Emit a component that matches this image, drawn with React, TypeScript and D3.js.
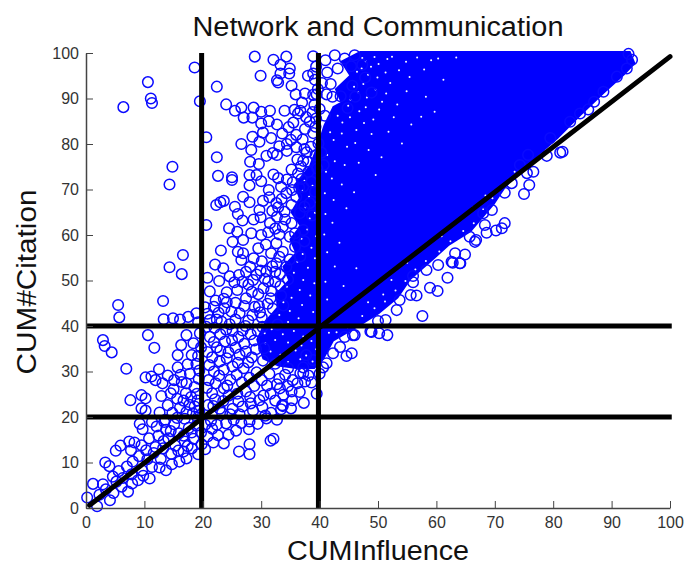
import React, { useEffect, useRef } from "react";
import * as d3 from "d3";

const xTicks = [0, 10, 20, 30, 40, 50, 60, 70, 80, 90, 100];
const yTicks = [0, 10, 20, 30, 40, 50, 60, 70, 80, 90, 100];
const cutoffs = [20, 40];

// outline of the area where the circles overlap into solid blue
const solidMass = [
  [47, 100], [93, 100], [93.7, 97.8], [92, 95.5], [88.5, 91.4], [84.5, 86.5], [80.6, 81.5], [77, 77.5], [73.8, 74],
  [71.5, 70.5], [69.7, 67], [65.7, 61], [62, 58], [59.4, 55], [55.4, 50.5], [53.2, 46.4], [50, 43], [46.9, 40.5],
  [42.2, 37], [40.5, 33], [39, 31], [36, 31], [33, 31.5], [30.5, 33], [29.5, 37], [31, 41], [33, 44], [32.8, 47], [35, 50], [34, 53], [36.2, 56],
  [35.2, 59], [37, 62], [35.4, 65], [36.8, 68], [36, 71], [38.5, 75], [40, 80], [41, 84], [42.5, 88], [44, 89], [43, 92], [45.5, 95], [44, 98],
];

// small holes left between the overlapping circles
const gaps = [
  [47.3, 98.9], [47.9, 98.2], [49.4, 99.1], [50.1, 97.6], [51.6, 98.7], [52.4, 99.2], [54.8, 98.1], [56.7, 99], [59.1, 98.4], [60.3, 98.8], [63.4, 99],
  [46.4, 95.9], [47.2, 96.6], [48.3, 95.2], [48.8, 97], [49.9, 94.6], [51.3, 95.7], [52.1, 93.4], [53.6, 96.2], [55.4, 94.7], [57.9, 96.4], [61.2, 94.1],
  [45.9, 92.6], [46.6, 91.4], [47.5, 93.2], [48.1, 90.2], [49.6, 91.9], [50.7, 89.3], [51.4, 91.1], [53.3, 88.7], [54.9, 91.6], [58.2, 90.4], [59.7, 87.1],
  [44.9, 88.4], [45.3, 89.7], [46.8, 87.2], [47.9, 88.1], [49.2, 85.4], [50.2, 87.6], [52.7, 85.9], [55.7, 84.3], [57.4, 86],
  [43.1, 86.2], [43.9, 84.7], [45.2, 85.9], [46.3, 83.1], [47.6, 84.6], [48.9, 82.2], [51.8, 82.7], [54.1, 80.1],
  [41.8, 82.6], [42.4, 80.9], [43.8, 82.3], [44.7, 79.4], [46.1, 80.2], [48.4, 78.7], [50.6, 77.1], [41.3, 77.6], [42.6, 76.2], [44.3, 75.4],
  [46.7, 75.9], [49.6, 73.2], [41.1, 73.9], [42.1, 72.4], [43.8, 71.1], [45.9, 69.4], [40.9, 69.2], [42.4, 67.7], [44.6, 65.9],
  [41, 64.6], [42.2, 62.7], [40.8, 60.1], [43.4, 58.3], [41.3, 56.2], [42.6, 53.1], [41, 49.7], [44.1, 48.8], [41.3, 45.8], [46.3, 52.7],
  [37.4, 71.9], [38.8, 70.8], [39.5, 67.2], [37.1, 69.7], [38.2, 68.4], [37.6, 66.1], [39.2, 64.9], [38.3, 63.6], [37.9, 61.2], [39.4, 59.7],
  [36.9, 59.2], [38.6, 57.2], [37.1, 55.8], [39.2, 54.9], [36.2, 54.1], [38, 52.8], [35.6, 51.7], [37.2, 50.1], [39.1, 49.4], [34.4, 48.6],
  [36.6, 47.9], [38.4, 46.7], [35.2, 46.2], [33.8, 45.2], [37, 44.6], [34.9, 43.3], [38.9, 43.1], [33.1, 42.4], [36.4, 41.7], [34.6, 40.9],
  [30.6, 38.4], [31.8, 39.3], [33.7, 38.2], [35.6, 38.9], [37.2, 37.7], [30.7, 36.2], [32.4, 36.9], [34.6, 36.4], [36.9, 35.7],
  [38.6, 36.7], [31.6, 34.4], [33.3, 33.7], [35.9, 34.6], [37.7, 33.5], [39.4, 34.9], [32.9, 32.6], [34.6, 32.1], [36.7, 32.7], [38.8, 32.2],
  [42.9, 38.6], [44.8, 39.7], [41.6, 38.5], [47.3, 42.2], [49.4, 43.9], [51.2, 45.4], [53, 47.8], [54.7, 49.9], [56.4, 52.4], [58.2, 54.3],
  [60.5, 56.4], [62.4, 58.6], [64.6, 60.9], [66.4, 62.6], [68, 65.7], [69.6, 68.1], [71.2, 70.9], [73.4, 73.9], [50.9, 46.9], [48.3, 45.2],
  [52.3, 50.1], [55, 53.9], [57.4, 56.8], [60.9, 59.7], [63.7, 62.9], [66.3, 66.1], [68.4, 68.7],
];

// circles on their own or in loose clusters
const upperRings = [
  [6.4, 88.1], [10.6, 93.6], [11.1, 90], [11.3, 89], [18.6, 96.8], [19.5, 89.4], [14.8, 75], [14.3, 71.1], [20.6, 81.5],
  [22.4, 92.6], [22.4, 77.1], [22.6, 73], [25, 72.7], [25, 72.1], [28.9, 99.2], [32.1, 98.5], [34.3, 99.2], [38.9, 99.3],
  [33.3, 97.4], [34.9, 96.6], [29.9, 95], [33.3, 95.5], [34.8, 95.5], [32.7, 94], [32.9, 93.5], [35.2, 92.8], [35.9, 90.9],
  [37.5, 91.1], [38, 95], [38.9, 95.5], [39.2, 94.1], [24, 88.7], [25.5, 87.3], [26.6, 88], [28.7, 88], [27, 85.8],
  [28.5, 85.8], [30, 87.1], [31.5, 87.3], [31.3, 85], [30, 84.5], [34, 87.3], [35.7, 87.5], [36.7, 87.3], [36.3, 86.7],
  [39.1, 88.6], [34.7, 83.7], [30.3, 82.5], [31.7, 81.3], [28.5, 81.6], [26.6, 80], [28.3, 78.7], [29.7, 80.5], [34.4, 80],
  [34.4, 78.5], [36, 79.3], [36, 82], [30.9, 77.4], [32, 78], [32.7, 77.6], [28.1, 76.1], [29.6, 75.6], [37.2, 76.3],
  [38, 76.1], [32.1, 73.3], [28, 73.2], [29.2, 73.2], [30, 71.8], [28, 70.9], [31.3, 69.9], [32.9, 72.5], [34.4, 72.2],
  [36.3, 73.5], [22.3, 66.6], [23.6, 67.5], [23, 67.2], [26.9, 68.4], [28, 67.2], [30.3, 67.5], [25.5, 66.2], [26, 64.6],
  [26.8, 63.2], [28.7, 63.4], [29.7, 65.5], [29.9, 63.9], [31.5, 62.6], [32.6, 67], [32.7, 64], [20.6, 62.2], [24.5, 61.5],
  [25.9, 60.7], [16.6, 55.6], [14.3, 52.9], [16.4, 51.4], [23.1, 56.6], [22.1, 53.5], [25.1, 58.5], [26.9, 58.9], [28.3, 60.4],
  [30, 60], [26, 56.3], [26.9, 56], [26.6, 54.5], [28.7, 54.9], [29.5, 57.1], [31.7, 56], [33.7, 56.3], [34.9, 59.6], [32.6, 53.8],
  [26.2, 51.2], [23.5, 52.7], [30.9, 52], [34.3, 53], [32.6, 58.2], [35.2, 62.6], [33.7, 61.8], [37.2, 61.1], [36.6, 64.8],
  [35.2, 66.6], [38.3, 67], [34.3, 69.2], [36, 68.4], [37.2, 70.6], [38.6, 71.7], [38.3, 84.9], [37.5, 83.3], [38.9, 82.4],
  [37.1, 81], [38.5, 79.4], [39.3, 77.5], [39.8, 80.1], [39.4, 85.6], [37.8, 78.2], [39.6, 74.6], [38.1, 73.9], [39.2, 69.5],
  [38.7, 64.3], [37.4, 66.2], [36.5, 70.4], [35.4, 71.6], [33.4, 70.6], [31.9, 65.3], [34, 65.1], [33.1, 60.1], [35.8, 57.4],
  [37.4, 58.6], [36.7, 55.3], [34.9, 54.6], [33.2, 51.4], [31.2, 49.8], [29.2, 51.3], [27.8, 49.1], [25.4, 49.6], [28.1, 53],
  [30.1, 54.2], [32.4, 49.7], [24.1, 47.4], [22.8, 49.9], [21.2, 47.6], [20.8, 50.6], [22.2, 45.6], [20.4, 44.1], [23.7, 43.9],
  [25.6, 45.1], [27.4, 46.1], [29.5, 47], [28.9, 44.2], [26.3, 42.8],
  [31.2, 60.6], [32.4, 61.4], [30.8, 57.9], [33.1, 55.2], [31.9, 53.1], [29.9, 52.2], [27.4, 51.9], [24.6, 50.9], [25.9, 47.9], [23.6, 46],
  [28.4, 47.5], [30.4, 48.3], [31.1, 44.9], [27.1, 44.4], [24.9, 43.2], [22.7, 42.9], [31.7, 47.7], [33.3, 48.8], [32.4, 51.9], [30.6, 50.4],
  [28.6, 50.1], [26.8, 49.7], [24.1, 45.2], [21.9, 44.2], [29.8, 43], [33.8, 44.5], [35.8, 60.4], [34.1, 63.4], [32.9, 66.1], [31.4, 68.3],
  [33.5, 67.9], [35.3, 69.9], [36.9, 72.3], [35.2, 74.4], [36.8, 75.1], [37.4, 78.9], [36.2, 76.6], [38.8, 87], [37.7, 85.9], [38.9, 90.8],
  [39.4, 97], [39.7, 92.1], [40, 87.7], [39.3, 83.8], [35.1, 80.9], [33.6, 82.3], [32.7, 84.3], [33.1, 79.5], [35.5, 84.7], [37, 89.1],
];

const middleRings = [
  [5.5, 44.6], [5.7, 41.9], [13.2, 45.5], [13.3, 41.5], [14.9, 41.7], [17.5, 42], [18.9, 42.8], [2.9, 36.9], [3.2, 35.6],
  [4.4, 34.2], [6.9, 30.6], [10.6, 38], [11.7, 35.2], [10.2, 28.7], [11.2, 28.9], [11.9, 28.1], [12.5, 30.5], [14, 29.1],
  [15.7, 30.9], [15.7, 33.6], [16.3, 35.8], [17.2, 38], [18.4, 36.2], [7.6, 23.7], [9.5, 24.8], [10.2, 24.1], [12.9, 24.6],
  [14, 22.6], [9.5, 21.9], [10.2, 21.4], [9.2, 18.5], [9.7, 17.3], [12.6, 21], [15, 26.1], [16.4, 27.7], [17.8, 29.5],
  [18.9, 31.7], [15.6, 24], [17.1, 25.2], [18.6, 26.6], [19.3, 28.4], [16.1, 22.1], [17.7, 22.7], [19.1, 23.6], [14.8, 20.9],
  [18.3, 20.8], [19.4, 21.4], [16.9, 19.6], [15.1, 18.4], [13.7, 17.2], [12.4, 15.9], [14.1, 15.3], [15.9, 16.4], [17.6, 17.6],
  [18.9, 18.1], [19.7, 16.6], [18.4, 15.2], [16.9, 14.6], [15.3, 13.7], [13.2, 13.1], [11.6, 12.1], [12.8, 10.8], [14.6, 11.9],
  [16.7, 12.4], [18.1, 13.1], [19.8, 14], [20.8, 15.7], [21.6, 17.4], [21.4, 19.1], [22.4, 18.3], [24, 18.6], [25.3, 19.4],
  [26.6, 18.7], [28, 19], [29.4, 18.5], [23.3, 20.9], [21.8, 22.4], [23.5, 23.5], [25.1, 21.8], [26.8, 22.3], [28.6, 21.4],
  [30.2, 22.2], [31.7, 20.9], [33.4, 21.7], [32.4, 23.6], [30.4, 24.7], [28.1, 24.4], [25.9, 25.1], [23.6, 26.3], [21.6, 25.2],
  [21, 28.1], [22.8, 29.1], [24.7, 28.2], [26.7, 27.6], [28.8, 26.8], [31, 26.9], [33.1, 28.4], [35.4, 28.1], [36.6, 25.5],
  [31.4, 29.5], [29.2, 29.8], [27, 30.7], [25.1, 31.1], [22.9, 32.2], [21.1, 31.4], [20.8, 34.3], [22.4, 35.3], [24.4, 34.2],
  [26.3, 33.7], [28.4, 33.1], [30.3, 32.4], [32.4, 31.7], [34.6, 30.7], [36.7, 29.6], [38.6, 27.6], [39.5, 25.1], [27.1, 36.1],
  [25, 36.9], [23, 38.2], [21.2, 37.6], [20.6, 39.8], [22.4, 41.4], [24.6, 40.4], [26.8, 39], [28.8, 36.8], [30.5, 35.1],
  [29.4, 38.9], [27.8, 41.2], [30.1, 41.9], [32, 43.8], [33.4, 46.7], [31.6, 46.1], [29.6, 44.4], [34.6, 50.2], [32.8, 40.3],
  [19.2, 33.4], [19.7, 35.3], [19.5, 38.4], [19.2, 40.8], [16.1, 41.4], [20.8, 42.7], [13.1, 27.4], [14.5, 25.2],
  [22.1, 23.9], [24.4, 24.7], [26.1, 23.4], [27.4, 25.6], [29.7, 23.7], [31.6, 25.1], [33.8, 24.9], [34.6, 26.8], [32.7, 27.2], [30.1, 28.1],
  [28, 28.6], [25.8, 29.3], [23.6, 30.4], [21.9, 30], [20.7, 26.4], [22.2, 27.4], [24.2, 26.9], [26, 31.9], [27.8, 32], [24.1, 32.9],
  [21.6, 33.1], [23, 34.6], [25.6, 35.2], [27.4, 34.4], [29.1, 34.9], [26.1, 37.6], [23.8, 36.6], [21.9, 36.5], [24, 39.2], [22, 39.6],
  [25.6, 41.4], [27.3, 40], [28.5, 42.4], [23.2, 41], [21.2, 41.3], [25.1, 38.9], [28.2, 38.2], [30.2, 39.8], [20.9, 22.6], [22.9, 21.8],
  [24.7, 20.6], [26.3, 20.6], [28.2, 23], [30.7, 20.3], [32.7, 19.4], [35.1, 21.9], [36.2, 27.4], [34.1, 29.3], [38.1, 29.1], [37.2, 30.9],
  [16.2, 29.3], [17.4, 31.6], [18.1, 33.6], [15.1, 28.1], [16.7, 23.6], [18, 24.4], [19, 25.1], [17.2, 27.4], [19.4, 30.2], [18.6, 22.3],
  [15.6, 19.8], [17.2, 21.1], [19.1, 19.8], [13.4, 18.9], [14.5, 16.9], [16.7, 15.9], [18.1, 16.6], [20.4, 18.3], [15.8, 12.6], [17.4, 13.6],
];

const lowerRings = [
  [7.4, 14.6], [8.3, 14.4], [5.9, 13.7], [5.1, 12.6], [3.3, 10], [4, 9.2], [7.7, 12.7], [9.5, 13.8], [10.3, 12.7], [8, 10.2],
  [1.2, 5.3], [0.2, 2.3], [2.3, 2.9], [1.9, 0.4], [4.1, 1.7], [5.2, 5.8], [7.2, 3.6], [8.9, 6.1], [10.9, 6.5], [13.7, 8.3],
  [16, 10.2], [19.2, 11.8], [23.6, 14.2], [26.2, 12.4], [28, 14], [28, 11.8], [31.6, 14.8], [32.1, 15.2], [25.7, 17], [27.9, 17.3],
  [22.6, 16], [30.9, 19.7], [6.3, 6.6], [7.8, 7.4], [9.6, 8.3], [11.3, 9], [12.6, 8.9], [14.7, 9.6], [3.4, 4.1], [4.7, 3.3],
  [6.1, 4.7], [7.9, 5.4], [9.8, 7.1], [10.5, 10.7], [9.1, 11.4], [11.9, 13.4], [10.8, 15.3], [12.1, 17.9], [13.6, 19.4],
  [11.3, 18.9], [13.3, 14.7], [17.2, 10.9], [20.4, 12.9], [21.8, 14.4], [24.4, 16.1], [7, 9.1], [5.6, 8.1], [4.6, 6.9], [2.9, 5.2],
];

// the ragged lower edge of the solid area
const edgeRings = [
  [37.3, 23.1], [33.6, 22.6], [33.7, 22.4], [35.3, 23.7], [37.5, 27.8], [35.2, 25.6], [33.2, 26.3], [45.5, 34], [44.6, 33.4],
  [43.5, 35.4], [40.6, 30.9], [46, 38], [48.9, 38.7], [42.3, 34], [41.2, 31.8], [40, 29.5], [38.9, 32.5], [37.7, 33.6], [37.2, 29.6],
  [45.7, 38], [44.3, 37.6], [51.6, 38], [50.2, 38.4], [48.7, 38.8], [57.6, 42.2], [53.2, 43.5], [51.3, 41.3], [50, 41.1], [58.9, 48.4],
  [60.2, 47.7], [56.6, 46.7], [55.6, 46.8], [56, 49.6], [53.7, 45.7], [61.9, 50.6], [64.9, 55.7], [64, 53.8], [62.8, 53.9], [66.6, 58.5],
  [60.3, 53.4], [58.3, 52.3], [56, 51], [63.2, 56], [62.6, 54.1], [64.1, 53.8], [65.7, 59.6], [66.8, 58.9], [68.3, 62.2], [68.6, 60.5],
  [70.2, 61], [71.2, 61.5], [71.7, 62.6], [68, 64.8], [69.5, 65.5], [71.7, 69.3], [75, 69], [75.9, 71], [75.5, 73.6], [76.6, 73.9],
  [72.9, 71.4], [74.3, 75.4], [75.7, 77.6], [78.9, 77.4], [81.2, 78.1], [81.6, 78.3], [79.5, 81.3], [82.9, 84.9], [84.6, 86.7],
  [86, 87.6], [87, 89.3], [88.6, 91.5], [90.9, 94.8], [92.6, 96.6], [93.5, 98.5], [92.9, 99.8],
];

// speckled top-left corner of the dense area, where single circles still show
const topRings = [
  [41, 98.4], [42.6, 99.5], [44.3, 98.8], [46, 99.5], [41.3, 95.7], [43.1, 96.6], [41.9, 93.2], [42.2, 90.4], [41.2, 90.9], [40.4, 93.4], [40.9, 86.2],
  [43.6, 90.5], [45.6, 92.8], [46.1, 90.4], [45.4, 97.1], [47.3, 97.4], [47.8, 94.6], [48.9, 91.3], [44.8, 87.9], [40.3, 78.1], [40.7, 75.4], [39.5, 90.9],
];

const App = () => {
  const ref = useRef<SVGSVGElement>(null);

  useEffect(() => {
    const svg = d3.select(ref.current);
    svg.selectAll("*").remove();

    const x = d3.scaleLinear().domain([0, 100]).range([86, 670]);
    const y = d3.scaleLinear().domain([0, 100]).range([508, 53]);

    const outline = d3.line<number[]>().x(d => x(d[0])).y(d => y(d[1])).curve(d3.curveLinearClosed);
    svg.append("path").attr("d", outline(solidMass)).attr("fill", "#0000ff").attr("stroke", "#0000ff").attr("stroke-width", 4);

    svg.selectAll(".gap")
      .data(gaps)
      .enter()
      .append("circle")
      .attr("class", "gap")
      .attr("cx", d => x(d[0]))
      .attr("cy", d => y(d[1]))
      .attr("r", 1)
      .attr("fill", "#fff");

    const rings = [...upperRings, ...middleRings, ...lowerRings, ...edgeRings, ...topRings];
    svg.selectAll(".ring")
      .data(rings)
      .enter()
      .append("circle")
      .attr("class", "ring")
      .attr("cx", d => x(d[0]))
      .attr("cy", d => y(d[1]))
      .attr("r", 5.3)
      .attr("fill", "none")
      .attr("stroke", "#0a0aff")
      .attr("stroke-width", 1.5);

    // the four cutoff lines and the diagonal
    const heavy = (x1: number, y1: number, x2: number, y2: number, cap = "butt") =>
      svg.append("line")
        .attr("x1", x(x1)).attr("y1", y(y1))
        .attr("x2", x(x2)).attr("y2", y(y2))
        .attr("stroke", "#000")
        .attr("stroke-width", 5)
        .attr("stroke-linecap", cap);
    cutoffs.forEach(c => {
      heavy(c - 0.2, 0, c - 0.2, 100);
      heavy(0, c, 100.3, c);
    });
    heavy(0.6, 0.6, 100, 99.2, "round");

    const xAxis = svg.append("g")
      .attr("transform", `translate(0, ${y(0)})`)
      .call(d3.axisBottom(x).tickValues(xTicks).tickSizeInner(-7).tickSizeOuter(0).tickPadding(9));
    const yAxis = svg.append("g")
      .attr("transform", `translate(${x(0)}, 0)`)
      .call(d3.axisLeft(y).tickValues(yTicks).tickSizeInner(-7).tickSizeOuter(0).tickPadding(7));
    [xAxis, yAxis].forEach(a => {
      a.selectAll("text").attr("font-family", "Liberation Sans").attr("font-size", 16).attr("fill", "#333");
      a.selectAll("line").attr("stroke", "#444");
      a.select(".domain").attr("stroke", "#444").attr("stroke-width", 1.5);
    });

    const label = (text: string, width: number) =>
      svg.append("text")
        .attr("text-anchor", "middle")
        .attr("font-family", "Liberation Sans")
        .attr("font-size", 27)
        .attr("textLength", width)
        .attr("lengthAdjust", "spacingAndGlyphs")
        .attr("fill", "#111")
        .text(text);
    label("Network and Communication", 371).attr("x", 378).attr("y", 36);
    label("CUMInfluence", 182).attr("x", 378).attr("y", 560);
    label("CUM#Citation", 185).attr("transform", "translate(36, 282) rotate(-90)");
  }, []);

  return <svg ref={ref} width={685} height={565} style={{ position: "absolute", left: 0, top: 0 }} />;
};

export default App;
